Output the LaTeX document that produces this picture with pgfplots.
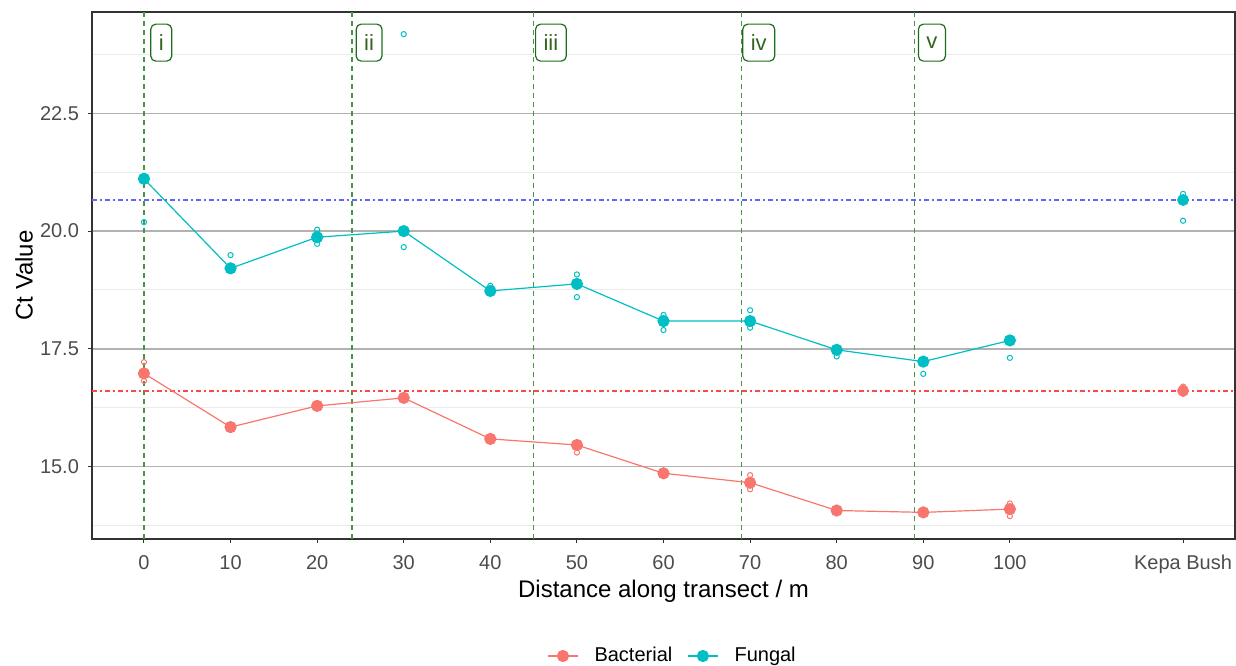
\documentclass[border=0pt]{standalone}
\usepackage{fontspec}
\setmainfont{Liberation Sans}
\setsansfont{Liberation Sans}
\usepackage{pgfplots}
\usepackage{pgfplotstable}
\pgfplotsset{compat=1.18}

\definecolor{bac}{HTML}{F8766D}
\definecolor{fun}{HTML}{00BFC4}
\definecolor{zonegreen}{RGB}{70,150,70}
\definecolor{lblborder}{RGB}{28,110,28}
\definecolor{lbltext}{RGB}{50,100,30}
\definecolor{refblue}{RGB}{100,100,255}
\definecolor{refred}{RGB}{255,70,70}

% mean Ct per sampling point (120 = Kepa Bush reference)
\pgfplotstableread{
x    y
0    16.98
10   15.84
20   16.29
30   16.46
40   15.59
50   15.46
60   14.86
70   14.66
80   14.07
90   14.03
100  14.10
}\bacmean
\pgfplotstableread{
x    y
0    21.11
10   19.21
20   19.87
30   20.00
40   18.73
50   18.88
60   18.09
70   18.09
80   17.48
90   17.23
100  17.68
}\funmean
% individual replicates
\pgfplotstableread{
x    y
0    17.22
0    16.82
50   15.30
70   14.82
70   14.52
100  13.95
100  14.22
120  16.70
120  16.55
}\bacrep
\pgfplotstableread{
x    y
0    20.19
10   19.49
20   20.03
20   19.73
30   24.18
30   19.66
40   18.84
50   19.08
50   18.60
60   18.22
60   17.90
70   18.32
70   17.95
80   17.34
90   16.97
100  17.31
120  20.79
120  20.22
}\funrep
% zone labels along the transect
\pgfplotstableread{
x    y     lab
2    24    i
26   24    ii
47   24    iii
71   24    iv
91   24    v
}\zones

\pgfplotsset{
  zoneline/.style={color=zonegreen, line width=0.75pt, dash pattern=on 2.5pt off 2pt, forget plot},
  refline/.style={color=#1, line width=0.8pt, dash pattern=on 2.6pt off 1.6pt on 0.7pt off 1.6pt, forget plot},
}

\begin{document}
\begin{tikzpicture}
\begin{axis}[
  scale only axis,
  width=571.5pt, height=263.5pt,
  xmin=-6, xmax=126, ymin=13.465, ymax=24.65,
  axis line style={draw=black!80, line width=0.6pt},
  xtick={0,10,20,30,40,50,60,70,80,90,100,120},
  xticklabels={0,10,20,30,40,50,60,70,80,90,100,Kepa Bush},
  ytick={15,17.5,20,22.5},
  minor ytick={13.75,16.25,18.75,21.25,23.75},
  /pgf/number format/assume math mode=true,
  yticklabel style={/pgf/number format/fixed,/pgf/number format/fixed zerofill,/pgf/number format/precision=1,
    anchor=east, xshift=-1pt},
  xticklabel style={anchor=base, yshift=-13pt},
  ticklabel style={font=\fontsize{10}{12}\selectfont, text=black!70},
  tick align=outside, xtick pos=bottom, ytick pos=left,
  major tick length=2pt, minor tick length=0pt,
  tick style={draw=black!80, line width=0.5pt},
  ymajorgrids, yminorgrids,
  major grid style={draw=black!30, line width=0.7pt},
  minor grid style={draw=black!8, line width=0.5pt},
  legend columns=2,
  legend style={at={(0.507,-0.222)}, anchor=center, draw=none, fill=none,
    font=\fontsize{10}{12}\selectfont, inner sep=0pt,
    nodes={inner xsep=0pt},
    /tikz/every odd column/.append style={column sep=8pt},
    /tikz/every even column/.append style={column sep=7.5pt}},
  legend image code/.code={\draw[mark repeat=2,mark phase=2]
    plot coordinates {(0pt,0pt) (7.5pt,0pt) (15pt,0pt)};},
]
\coordinate (pSW) at (rel axis cs:0,0);
\coordinate (pNE) at (rel axis cs:1,1);

% zone boundaries
\addplot[zoneline] coordinates {(0,13.465) (0,24.65)};
\addplot[zoneline] coordinates {(24,13.465) (24,24.65)};
\addplot[zoneline] coordinates {(45,13.465) (45,24.65)};
\addplot[zoneline] coordinates {(69,13.465) (69,24.65)};
\addplot[zoneline] coordinates {(89,13.465) (89,24.65)};

% Kepa Bush reference levels
\addplot[refline=refblue] coordinates {(-6,20.66) (126,20.66)};
\addplot[refline=refred] coordinates {(-6,16.60) (126,16.60)};

% replicates
\addplot[only marks, mark=o, mark size=1.3pt, mark options={draw=bac, line width=0.5pt}, forget plot] table[x=x,y=y] {\bacrep};
\addplot[only marks, mark=o, mark size=1.3pt, mark options={draw=fun, line width=0.5pt}, forget plot] table[x=x,y=y] {\funrep};

% means along transect
\addplot[bac, line width=0.6pt, mark=*, mark size=2.75pt, mark options={fill=bac, draw=bac}] table[x=x,y=y] {\bacmean};
\addlegendentry{Bacterial}
\addplot[fun, line width=0.6pt, mark=*, mark size=2.75pt, mark options={fill=fun, draw=fun}] table[x=x,y=y] {\funmean};
\addlegendentry{Fungal}

% Kepa Bush means
\addplot[only marks, mark=*, mark size=2.75pt, mark options={fill=bac, draw=bac}, forget plot] coordinates {(120,16.61)};
\addplot[only marks, mark=*, mark size=2.75pt, mark options={fill=fun, draw=fun}, forget plot] coordinates {(120,20.66)};

% zone labels
\addplot[draw=none, mark=none, forget plot, nodes near coords, point meta=explicit symbolic,
  nodes near coords style={anchor=center, draw=lblborder, rounded corners=2.5pt, line width=0.6pt,
    fill=white, text=lbltext, font=\fontsize{11}{13}\selectfont, inner xsep=4pt, inner ysep=0pt,
    minimum height=18.5pt}]
  table[x=x,y=y,meta=lab] {\zones};
\end{axis}

\path (pSW) -- (pSW |- pNE) coordinate[pos=0.5] (pW);
\path (pSW) -- (pSW -| pNE) coordinate[pos=0.5] (pS);
\node[rotate=90, font=\fontsize{12}{14}\selectfont, anchor=center] at ([xshift=-34pt]pW) {Ct Value};
\node[font=\fontsize{12}{14}\selectfont, anchor=base] at ([yshift=-29pt]pS) {Distance along transect / m};

\pgfresetboundingbox
\path[use as bounding box] ([xshift=-46pt,yshift=-63pt]pSW) rectangle ([xshift=0.5pt,yshift=6pt]pNE);
\end{tikzpicture}
\end{document}
